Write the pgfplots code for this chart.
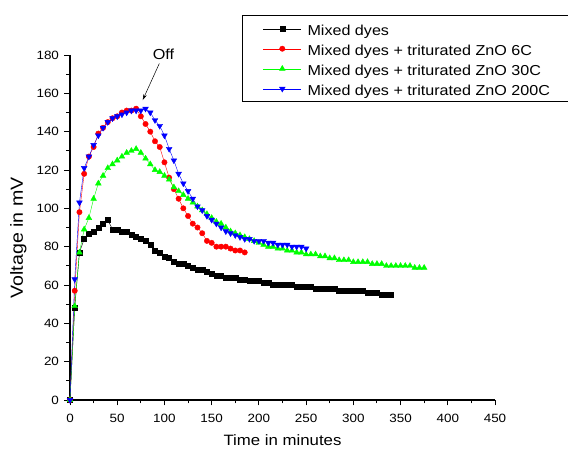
\documentclass[border=0pt]{standalone}
\usepackage{fontspec}
\setmainfont{Liberation Sans}[FakeStretch=1.12]
\usepackage{pgfplots}
\pgfplotsset{compat=1.18}
\usetikzlibrary{arrows.meta}
\definecolor{cgreen}{RGB}{0,255,0}
\definecolor{cred}{RGB}{255,0,0}
\definecolor{cblue}{RGB}{0,0,255}
\begin{document}
\begin{tikzpicture}
\begin{axis}[
  scale only axis, width=425pt, height=345pt,
  at={(70pt,50pt)}, anchor=south west,
  xmin=0, xmax=450, ymin=0, ymax=180,
  xtick={0,50,...,450}, ytick={0,20,...,180},
  minor x tick num=1, minor y tick num=1,
  axis lines*=left,
  axis line style={line width=1.1pt, black},
  tick align=outside,
  major tick length=5.5pt, minor tick length=3.5pt,
  every tick/.style={black, line width=0.9pt},
  /pgf/number format/assume math mode=true,
  ticklabel style={font=\fontsize{12}{14}\selectfont},
  xticklabel style={yshift=-5pt},
  yticklabel style={xshift=-2pt},
  xlabel={Time in minutes}, ylabel={Voltage in mV},
  xlabel style={font=\fontsize{15}{17}\selectfont, at={(axis description cs:0.5,0)}, anchor=base, yshift=-46pt},
  ylabel style={font=\fontsize{17.5}{19}\selectfont, at={(axis description cs:-0.1106,0.47)}, anchor=base},
  clip=false,
  legend style={at={(axis description cs:0.404,1.115)}, anchor=north west, draw=black, line width=0.8pt,
    font=\fontsize{14.4}{16}\selectfont, inner xsep=21pt, inner ysep=5pt,
    nodes={inner sep=1pt, text height=14pt, text depth=0pt, line width=0.4pt}, row sep=4pt,
    /tikz/every odd column/.append style={column sep=5pt}},
  legend cell align=left,
  legend image code/.code={\draw[mark repeat=2,mark phase=2,#1] plot coordinates {(0pt,0pt) (19pt,0pt) (38pt,0pt)};},
]
\addplot[black, line width=0.4pt, mark=square*, mark size=2.5pt, mark options={solid}] coordinates {
(0,0)(5,48)(10,77)(15,84)(20,87)(25,88)(30,90)(35,92)(40,94)(45,89)(50,89)(55,88)(60,88)(65,86)(70,85)(75,84)(80,83)(85,81)(90,78)(95,77)(100,75)(105,74)(110,72)(115,71)(120,71)(125,70)(130,69)(135,68)(140,68)(145,67)(150,66)(155,65)(160,65)(165,64)(170,64)(175,64)(180,63)(185,63)(190,62)(195,62)(200,62)(205,61)(210,61)(215,60)(220,60)(225,60)(230,60)(235,60)(240,59)(245,59)(250,59)(255,59)(260,58)(265,58)(270,58)(275,58)(280,58)(285,57)(290,57)(295,57)(300,57)(305,57)(310,57)(315,56)(320,56)(325,56)(330,55)(335,55)(340,55)};
\addlegendentry{Mixed dyes}
\addplot[cred, line width=0.4pt, mark=*, mark size=2.7pt, mark options={solid}] coordinates {
(0,0)(5,57)(10,98)(15,118)(20,127)(25,132)(30,139)(35,142)(40,145)(45,147)(50,148)(55,150)(60,151)(65,151)(70,152)(75,148)(80,144)(85,140)(90,135)(95,132)(100,124)(105,116)(110,110)(115,105)(120,100)(125,96)(130,92)(135,90)(140,87)(145,83)(150,82)(155,80)(160,80)(165,80)(170,79)(175,78)(180,78)(185,77)};
\addlegendentry{Mixed dyes + triturated ZnO 6C}
\addplot[cgreen, line width=0.4pt, mark=triangle*, mark size=3.3pt, mark options={solid}] coordinates {
(0,0)(5,49)(10,77)(15,89)(20,95)(25,105)(30,113)(35,117)(40,121)(45,123)(50,125)(55,127)(60,129)(65,130)(70,131)(75,129)(80,126)(85,123)(90,120)(95,119)(100,117)(105,115)(110,111)(115,109)(120,107)(125,105)(130,103)(135,101)(140,99)(145,97)(150,95)(155,93)(160,92)(165,90)(170,88)(175,87)(180,86)(185,85)(190,84)(195,83)(200,82)(205,81)(210,80)(215,80)(220,79)(225,79)(230,78)(235,78)(240,77)(245,77)(250,76)(255,76)(260,76)(265,75)(270,75)(275,74)(280,74)(285,73)(290,73)(295,73)(300,72)(305,72)(310,72)(315,72)(320,71)(325,71)(330,71)(335,70)(340,70)(345,70)(350,70)(355,70)(360,70)(365,69)(370,69)(375,69)};
\addlegendentry{Mixed dyes + triturated ZnO 30C}
\addplot[cblue, line width=0.4pt, mark=triangle*, mark size=3.3pt, mark options={solid, rotate=180}] coordinates {
(0,0)(5,63)(10,103)(15,121)(20,127)(25,133)(30,138)(35,142)(40,145)(45,147)(50,148)(55,149)(60,150)(65,151)(70,151)(75,151)(80,152)(85,150)(90,146)(95,143)(100,138)(105,131)(110,125)(115,118)(120,113)(125,109)(130,105)(135,101)(140,99)(145,96)(150,94)(155,92)(160,90)(165,88)(170,87)(175,86)(180,85)(185,84)(190,84)(195,83)(200,83)(205,83)(210,82)(215,82)(220,81)(225,81)(230,81)(235,80)(240,80)(245,80)(250,79)};
\addlegendentry{Mixed dyes + triturated ZnO 200C\hspace*{8pt}}
\node[font=\fontsize{14.5}{16}\selectfont] at (axis cs:99,180.6) {Off};
\draw[line width=0.5pt, -{Stealth[length=6pt,width=3.5pt]}] (axis cs:94.6,175.6) -- (axis cs:77,156.5);
\end{axis}
\pgfresetboundingbox
\path[use as bounding box] (0,0) rectangle (568pt,450pt);
\end{tikzpicture}
\end{document}
